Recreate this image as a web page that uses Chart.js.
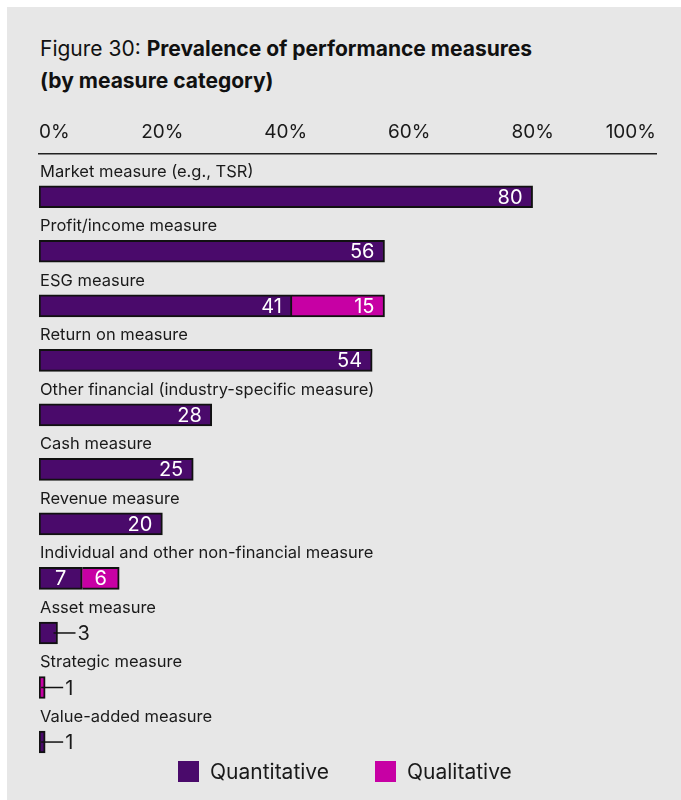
<!DOCTYPE html>
<html>
<head>
<meta charset="utf-8">
<script src="https://cdn.jsdelivr.net/npm/chart.js@4.4.1/dist/chart.umd.min.js"></script>
<style>
  html, body { margin: 0; padding: 0; background: #fff; }
  #panel {
    position: absolute; left: 7px; top: 7px; width: 674px; height: 793px;
    background: #e7e7e7;
  }
  #wrap { position: absolute; left: 0; top: 0; width: 681px; height: 800px; }
  .title {
    position: absolute; left: 40px; top: 33px;
    font: 21px/32px Inter, "Noto Sans", sans-serif; color: #111;
  }
  .title b { font-weight: 700; }
  #legend {
    position: absolute; left: 178px; top: 759px;
    display: flex; align-items: center;
    font: 21px Inter, "Noto Sans", sans-serif; color: #1a1a1a;
  }
  #legend .item { display: flex; align-items: center; margin-right: 46px; }
  #legend .box { width: 21px; height: 21px; margin-right: 11px; }
</style>
</head>
<body>
<div id="panel"></div>
<div class="title">Figure 30: <b>Prevalence of performance measures</b><br><b>(by measure category)</b></div>
<div id="wrap"><canvas id="measuresChart"></canvas></div>
<div id="legend"></div>
<script>
const categories = [
  'Market measure (e.g., TSR)',
  'Profit/income measure',
  'ESG measure',
  'Return on measure',
  'Other financial (industry-specific measure)',
  'Cash measure',
  'Revenue measure',
  'Individual and other non-financial measure',
  'Asset measure',
  'Strategic measure',
  'Value-added measure'
];
const quantitative = [80, 56, 41, 54, 28, 25, 20, 7, 3, null, 1];
const qualitative = [null, null, 15, null, null, null, null, 6, null, 1, null];
const xTickValues = [0, 20, 40, 60, 80, 100];

const PURPLE = '#4a0a6b';
const MAGENTA = '#c700a4';

Chart.defaults.font.family = 'Inter, "Noto Sans", sans-serif';
Chart.defaults.color = '#1a1a1a';

// labels sit above the bars, so the scales need no extra edge padding
function noEdgePadding(scale) {
  scale.paddingTop = 0;
  scale.paddingBottom = 0;
  scale.paddingLeft = 0;
  scale.paddingRight = 0;
}

// white numbers inside the bars, leader line + number for the tiny ones
const valueLabels = {
  id: 'valueLabels',
  afterDatasetsDraw(chart) {
    const ctx = chart.ctx;
    ctx.save();
    ctx.font = '20px Inter, "Noto Sans", sans-serif';
    ctx.textBaseline = 'middle';
    chart.data.datasets.forEach((ds, di) => {
      chart.getDatasetMeta(di).data.forEach((bar, i) => {
        const v = ds.data[i].x;
        if (v == null) return;
        const w = bar.x - bar.base;
        if (w > 30) {
          ctx.fillStyle = '#fff';
          if (w < 50) {
            ctx.textAlign = 'center';
            ctx.fillText(v, bar.base + w / 2, bar.y + 1);
          } else {
            ctx.textAlign = 'right';
            ctx.fillText(v, bar.x - 10, bar.y + 1);
          }
        } else {
          ctx.strokeStyle = '#111';
          ctx.lineWidth = 1.5;
          ctx.beginPath();
          ctx.moveTo(bar.x - 4, bar.y);
          ctx.lineTo(bar.x + 18, bar.y);
          ctx.stroke();
          ctx.fillStyle = '#1a1a1a';
          ctx.textAlign = 'left';
          ctx.fillText(v, bar.x + 20, bar.y + 1);
        }
      });
    });
    ctx.restore();
  }
};

const chart = new Chart(document.getElementById('measuresChart'), {
  type: 'bar',
  data: {
    datasets: [
      {
        label: 'Quantitative',
        data: quantitative.map((v, i) => ({ x: v, y: i })),
        backgroundColor: PURPLE,
        borderColor: '#111',
        borderWidth: 2,
        borderSkipped: false,
        barThickness: 22
      },
      {
        label: 'Qualitative',
        data: qualitative.map((v, i) => ({ x: v, y: i })),
        backgroundColor: MAGENTA,
        borderColor: '#111',
        borderWidth: 2,
        borderSkipped: (c) => quantitative[c.dataIndex] ? 'start' : false,
        barThickness: 22
      }
    ]
  },
  options: {
    indexAxis: 'y',
    responsive: true,
    maintainAspectRatio: false,
    animation: false,
    layout: { autoPadding: false, padding: { left: 37, right: 25, top: 111, bottom: 44 } },
    plugins: {
      legend: { display: false },
      tooltip: { enabled: false }
    },
    scales: {
      x: {
        position: 'top',
        stacked: true,
        min: xTickValues[0],
        max: xTickValues[xTickValues.length - 1],
        grid: { display: false, drawTicks: false },
        border: { display: true, color: '#222', width: 1.5 },
        afterFit: noEdgePadding,
        ticks: {
          stepSize: xTickValues[1] - xTickValues[0],
          align: 'inner',
          padding: 10,
          font: { size: 19 },
          callback: (v) => v + '%'
        }
      },
      y: {
        type: 'linear',
        reverse: true,
        stacked: true,
        offset: false,
        min: -0.7875,
        max: 10.256,
        grid: { display: false, drawTicks: false, offset: false },
        border: { display: false },
        afterFit: noEdgePadding,
        ticks: {
          stepSize: 1,
          maxTicksLimit: 20,
          includeBounds: false,
          autoSkip: false,
          mirror: true,
          padding: 1,
          labelOffset: -25,
          font: { size: 16.5 },
          callback: (v) => Number.isInteger(v) ? categories[v] : ''
        }
      }
    }
  },
  plugins: [valueLabels]
});

// html legend built from the datasets
const legendEl = document.getElementById('legend');
chart.data.datasets.forEach((ds) => {
  const item = document.createElement('div');
  item.className = 'item';
  const box = document.createElement('span');
  box.className = 'box';
  box.style.background = ds.backgroundColor;
  item.appendChild(box);
  item.appendChild(document.createTextNode(ds.label));
  legendEl.appendChild(item);
});
</script>
</body>
</html>
